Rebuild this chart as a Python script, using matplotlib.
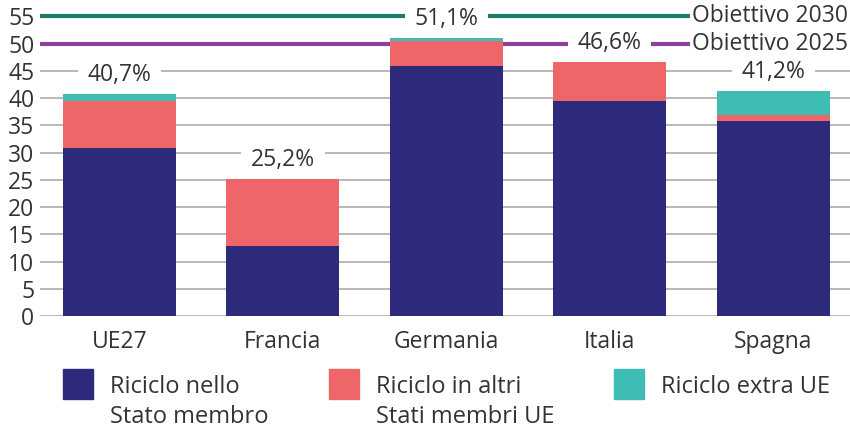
import matplotlib.pyplot as plt
from matplotlib.patches import Rectangle
import matplotlib.transforms as mtransforms

plt.rcParams['font.family'] = ['Open Sans', 'DejaVu Sans']

# Dati
paesi = ['UE27', 'Francia', 'Germania', 'Italia', 'Spagna']
nello_stato = [30.8, 12.9, 45.9, 39.4, 35.8]
altri_stati_ue = [8.6, 12.3, 4.6, 7.2, 1.1]
extra_ue = [1.3, 0.0, 0.6, 0.0, 4.3]
etichette = ['40,7%', '25,2%', '51,1%', '46,6%', '41,2%']
obiettivi = [55, 50]
obiettivi_testo = ['Obiettivo 2030', 'Obiettivo 2025']
legenda = ['Riciclo nello\nStato membro', 'Riciclo in altri\nStati membri UE', 'Riciclo extra UE']

blu = '#2d2a7b'
rosso = '#ee6667'
verde = '#3fbdb5'
col_obiettivi = ['#1f7b6e', '#8e409f']
testo = '#333333'
fs = 16.5

fig = plt.figure(figsize=(8.5, 4.32), dpi=100)
ax = fig.add_axes([0.047, 0.2685, 0.953, 0.7065])

x = range(len(paesi))
w = 0.69
ax.bar(x, nello_stato, w, color=blu, zorder=3)
ax.bar(x, altri_stati_ue, w, bottom=nello_stato, color=rosso, zorder=3)
base2 = [a + b for a, b in zip(nello_stato, altri_stati_ue)]
ax.bar(x, extra_ue, w, bottom=base2, color=verde, zorder=3)

ax.set_xlim(-0.486, 4.47)
ax.set_ylim(0, 56)
ax.set_yticks(range(0, 56, 5))
ax.set_xticks(list(x))
ax.set_xticklabels(paesi)
ax.tick_params(length=0, labelsize=fs, colors=testo)
ax.tick_params(axis='x', pad=10)
ax.tick_params(axis='y', pad=4)
for s in ax.spines.values():
    s.set_visible(False)
ax.yaxis.grid(True, color='#a5a5a5', linewidth=1.1, zorder=0)
ax.set_axisbelow(True)

# linee obiettivo
trans = mtransforms.blended_transform_factory(ax.transAxes, ax.transData)
for val, col, txt in zip(obiettivi, col_obiettivi, obiettivi_testo):
    ax.axhline(val, color=col, linewidth=3, zorder=2)
    ax.text(0.998, val, txt, transform=trans, ha='right', va='center', fontsize=fs,
            color=testo, zorder=2.5,
            bbox=dict(boxstyle='square,pad=0.12', fc='white', ec='none'))

# etichette totali
for i, lab in enumerate(etichette):
    tot = nello_stato[i] + altri_stati_ue[i] + extra_ue[i]
    ax.annotate(lab, xy=(i, tot), xytext=(0, 19), textcoords='offset pixels',
                ha='center', va='center', fontsize=fs, color=testo, zorder=2.5,
                bbox=dict(boxstyle='square,pad=0.42', fc='white', ec='none'))

# legenda
H, W = 432, 850
leg_x = [63, 329, 614]
for xp, col, txt in zip(leg_x, [blu, rosso, verde], legenda):
    fig.patches.append(Rectangle((xp / W, 1 - 399 / H), 30 / W, 30 / H,
                                 transform=fig.transFigure, color=col))
    for k, riga in enumerate(txt.split('\n')):
        fig.text((xp + 47) / W, 1 - (393 + 30 * k) / H, riga, ha='left', va='baseline',
                 fontsize=17, color=testo)

fig.savefig('out.png', dpi=100)
